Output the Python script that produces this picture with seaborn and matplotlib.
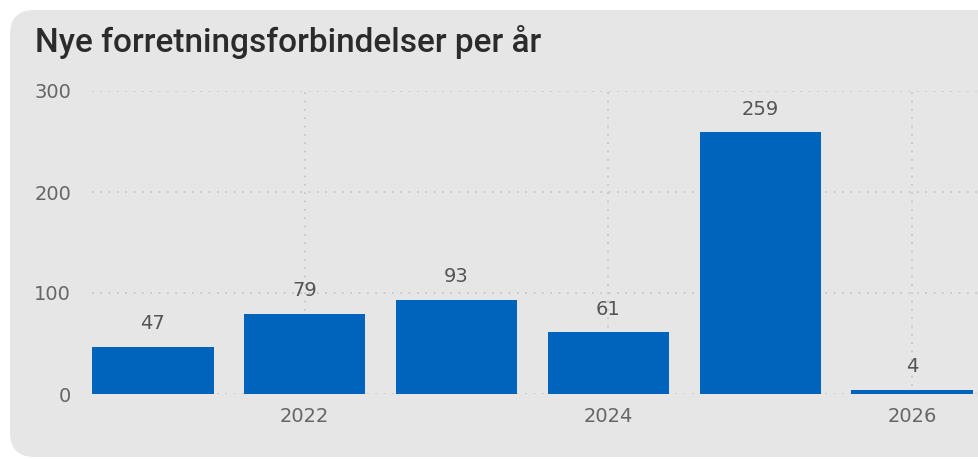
import matplotlib
matplotlib.use("Agg")
import matplotlib.pyplot as plt
from matplotlib.patches import FancyBboxPatch
import seaborn as sns
import pandas as pd

# Data
years = [2021, 2022, 2023, 2024, 2025, 2026]
counts = [47, 79, 93, 61, 259, 4]
x_ticks = [2022, 2024, 2026]
y_ticks = [0, 100, 200, 300]
title = "Nye forretningsforbindelser per år"

bar_color = "#0064BC"
panel_color = "#E6E6E6"
text_color = "#666666"
grid_color = "#C4C4C4"

df = pd.DataFrame({"år": years, "antall": counts})

sns.set_style("white")
plt.rcParams["font.family"] = ["DejaVu Sans"]

fig = plt.figure(figsize=(9.79, 4.59), dpi=100)
fig.patch.set_facecolor("white")

# rounded grey panel behind everything
panel = FancyBboxPatch((10 / 979, 2 / 459), 1.2, 447 / 459,
                       boxstyle="round,pad=0,rounding_size=0.025",
                       transform=fig.transFigure, facecolor=panel_color,
                       edgecolor="none", zorder=-5, mutation_aspect=979 / 459)
fig.patches.append(panel)

ax = fig.add_axes([92 / 979, 65 / 459, 1 - 92 / 979, 303 / 459])
ax.set_facecolor("none")
ax.set_zorder(2)

sns.barplot(data=df, x="år", y="antall", native_scale=True, width=0.8,
            color=bar_color, saturation=1, linewidth=0, ax=ax, zorder=3)

ax.bar_label(ax.containers[0], padding=10, fontsize=14, color="#555555")

ax.set_ylim(0, 300)
ax.set_xlim(2020.6, 2026.44)
ax.set_yticks(y_ticks)
ax.set_xticks(x_ticks)
ax.set_xlabel("")
ax.set_ylabel("")
ax.tick_params(axis="both", length=0, labelsize=14, labelcolor=text_color)
ax.tick_params(axis="y", pad=15)
ax.tick_params(axis="x", pad=9)

ax.grid(True, axis="both", color=grid_color, linestyle=(0, (1, 4)), linewidth=1.2)
ax.set_axisbelow(True)
for s in ax.spines.values():
    s.set_visible(False)

fig.text(35 / 979, 1 - 52 / 459, title, fontsize=24, fontweight="medium",
         color="#2B2B2B", ha="left", va="baseline", family=["Roboto", "DejaVu Sans"])

fig.savefig("out.png", dpi=100)
